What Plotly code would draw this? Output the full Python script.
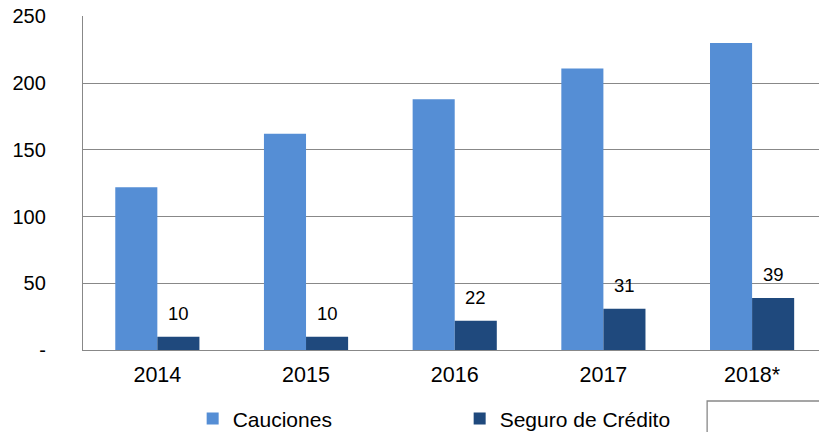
import plotly.graph_objects as go

years = ["2014", "2015", "2016", "2017", "2018*"]
cauciones = [122, 162, 188, 211, 230]
seguro = [10, 10, 22, 31, 39]
ytick_vals = [0, 50, 100, 150, 200, 250]
ytick_text = ["-", "50", "100", "150", "200", "250"]

C1 = "#558ED5"
C2 = "#1F497D"
GRID = "#888888"
FONT = "Liberation Sans, Arial, sans-serif"

fig = go.Figure()
fig.add_trace(go.Bar(name="Cauciones", x=years, y=cauciones, marker_color=C1,
                     marker_line_width=0))
fig.add_trace(go.Bar(name="Seguro de Crédito", x=years, y=seguro, marker_color=C2,
                     marker_line_width=0))

for i, v in enumerate(seguro):
    fig.add_annotation(x=i, y=v, text=str(v), showarrow=False,
                       xshift=21, yshift=11, yanchor="bottom",
                       font=dict(size=18.5, color="#000000", family=FONT))

fig.add_shape(type="rect", xref="paper", yref="paper",
              x0=0.848, x1=1.2, y0=-0.1527, y1=-0.6,
              line=dict(color=GRID, width=1.3), fillcolor="rgba(0,0,0,0)")

fig.update_layout(
    width=819, height=432,
    margin=dict(l=83, r=0, t=16, b=82, autoexpand=False),
    paper_bgcolor="white", plot_bgcolor="white",
    barmode="group", bargap=0.434, bargroupgap=0,
    font=dict(family=FONT, size=20, color="#000000"),
    showlegend=True,
    legend=dict(orientation="h", x=0.149, xanchor="left", y=-0.206, yanchor="middle",
                font=dict(size=21), entrywidth=222, entrywidthmode="pixels",
                itemclick=False, bgcolor="rgba(0,0,0,0)"),
    xaxis=dict(range=[-0.5, 4.45], showline=True, linecolor=GRID, linewidth=1.3,
               showgrid=False, ticks="", tickfont=dict(size=21.5), ticklabelstandoff=5,
               automargin=False),
    yaxis=dict(range=[0, 250.3], tickvals=ytick_vals, ticktext=ytick_text,
               showline=True, linecolor=GRID, linewidth=1.3,
               showgrid=True, gridcolor=GRID, gridwidth=1.3, zeroline=False,
               ticks="", tickfont=dict(size=20), ticklabelstandoff=32,
               ticklabeloverflow="allow", automargin=False),
)

# remove the page's default 8px body margin so the figure fills the window exactly
fig.write_html("out.html", config={"displayModeBar": False},
               post_script="document.body.style.margin='0';document.body.style.overflow='hidden';")
